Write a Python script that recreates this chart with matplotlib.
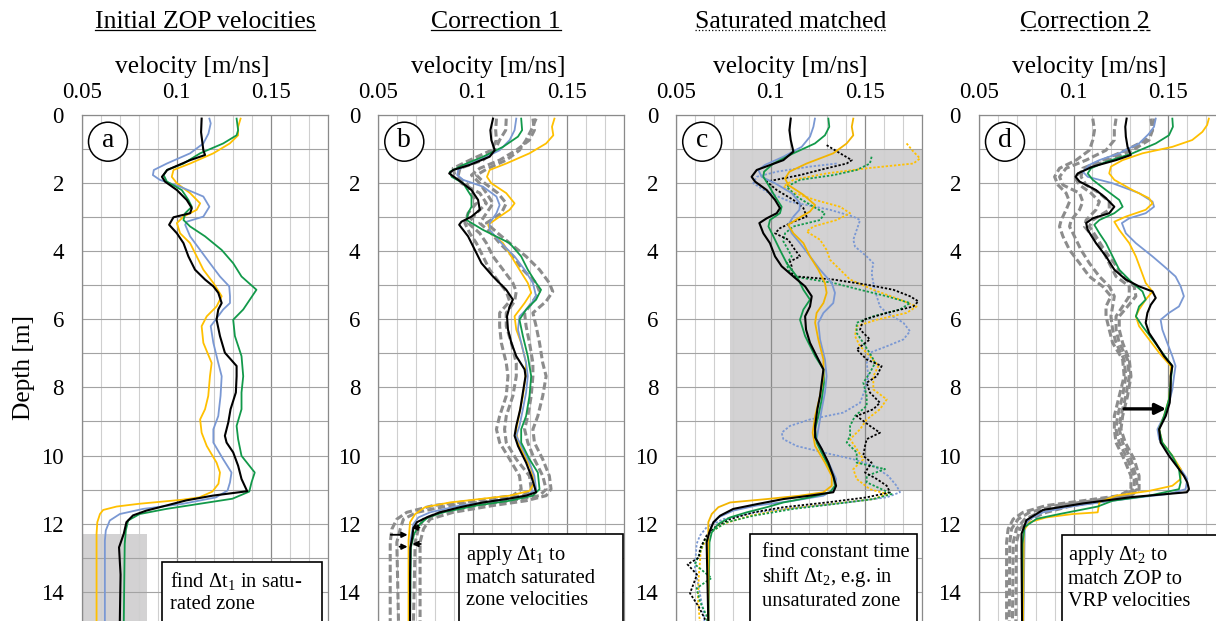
import matplotlib
matplotlib.use('Agg')
import matplotlib.pyplot as plt
from matplotlib.patches import Rectangle, Ellipse
from matplotlib.lines import Line2D
from matplotlib.transforms import IdentityTransform
import numpy as np

plt.rcParams['font.family'] = ['Liberation Serif', 'DejaVu Serif']
plt.rcParams['mathtext.fontset'] = 'custom'
plt.rcParams['mathtext.rm'] = 'Liberation Serif'
plt.rcParams['mathtext.it'] = 'Liberation Serif:italic'
plt.rcParams['mathtext.bf'] = 'Liberation Serif:bold'

# ---------------- DATA ----------------
panel_titles = ['Initial ZOP velocities', 'Correction 1', 'Saturated matched', 'Correction 2']
panel_letters = ['a', 'b', 'c', 'd']
x_ticks = [0.05, 0.10, 0.15]
x_tick_labels = ['0.05', '0.1', '0.15']
y_ticks = [0, 2, 4, 6, 8, 10, 12, 14]
box_texts = [
    'find $\\Delta\\mathrm{t}_1$ in satu-\nrated zone',
    'apply $\\Delta\\mathrm{t}_1$ to\nmatch saturated\nzone velocities',
    'find constant time\nshift $\\Delta\\mathrm{t}_2$, e.g. in\nunsaturated zone',
    'apply $\\Delta\\mathrm{t}_2$ to\nmatch ZOP to\nVRP velocities',
]

# Panel a
a_black_depth = [0.10, 0.50, 1.03, 1.17, 1.32, 1.61, 1.81, 1.95, 2.20, 2.49, 2.73, 2.88, 3.00, 3.22, 3.47, 3.76, 4.15, 4.54, 4.83, 5.03, 5.22, 5.52, 5.71, 6.01, 6.49, 6.98, 7.37, 7.67, 8.15, 8.64, 9.03, 9.42, 9.62, 9.91, 10.30, 10.69, 11.05, 11.18, 11.32, 11.47, 11.62, 11.76, 11.96, 12.30, 12.70, 13.50, 14.90]
a_black_vel = [0.1133, 0.1130, 0.1142, 0.1151, 0.1072, 0.0951, 0.0923, 0.0939, 0.1002, 0.1054, 0.1081, 0.1072, 0.0984, 0.0961, 0.1002, 0.1037, 0.1063, 0.1098, 0.1151, 0.1195, 0.1221, 0.1239, 0.1221, 0.1212, 0.1230, 0.1256, 0.1318, 0.1318, 0.1314, 0.1286, 0.1274, 0.1256, 0.1265, 0.1300, 0.1326, 0.1344, 0.1374, 0.1191, 0.1051, 0.0946, 0.0840, 0.0770, 0.0735, 0.0721, 0.0696, 0.0704, 0.0700]
a_blue_depth = [0.10, 0.24, 0.54, 0.83, 1.12, 1.42, 1.61, 1.76, 1.90, 2.10, 2.39, 2.69, 2.98, 3.13, 3.22, 3.56, 3.96, 4.35, 4.74, 5.03, 5.32, 5.52, 5.71, 6.20, 6.69, 7.28, 7.67, 8.25, 8.84, 9.23, 9.62, 10.11, 10.50, 10.79, 11.03, 11.23, 11.42, 11.57, 11.72, 11.91, 12.20, 12.50, 14.90]
a_blue_vel = [0.1174, 0.1181, 0.1169, 0.1142, 0.1072, 0.0949, 0.0880, 0.0875, 0.0912, 0.1019, 0.1142, 0.1174, 0.1142, 0.1054, 0.1046, 0.1072, 0.1125, 0.1177, 0.1230, 0.1279, 0.1283, 0.1283, 0.1247, 0.1181, 0.1195, 0.1221, 0.1239, 0.1233, 0.1221, 0.1195, 0.1195, 0.1247, 0.1291, 0.1283, 0.1270, 0.1209, 0.1033, 0.0823, 0.0700, 0.0647, 0.0626, 0.0621, 0.0621]
a_yellow_depth = [0.10, 0.34, 0.59, 0.83, 1.12, 1.42, 1.61, 1.81, 2.00, 2.29, 2.59, 2.78, 2.98, 3.17, 3.47, 3.76, 4.15, 4.54, 4.93, 5.32, 5.62, 5.91, 6.20, 6.69, 7.28, 7.67, 8.25, 8.64, 8.94, 9.33, 9.72, 10.21, 10.50, 10.83, 11.06, 11.23, 11.30, 11.42, 11.50, 11.60, 11.72, 11.96, 12.30, 14.90]
a_yellow_vel = [0.1339, 0.1326, 0.1326, 0.1282, 0.1195, 0.1072, 0.0984, 0.0975, 0.1002, 0.1072, 0.1125, 0.1107, 0.1037, 0.1002, 0.1019, 0.1072, 0.1107, 0.1142, 0.1195, 0.1239, 0.1212, 0.1160, 0.1133, 0.1142, 0.1186, 0.1177, 0.1168, 0.1151, 0.1125, 0.1133, 0.1160, 0.1212, 0.1230, 0.1222, 0.1190, 0.1121, 0.1030, 0.0800, 0.0683, 0.0612, 0.0595, 0.0581, 0.0577, 0.0577]
a_green_depth = [0.10, 0.44, 0.59, 0.83, 1.12, 1.42, 1.61, 1.76, 1.95, 2.20, 2.49, 2.69, 2.88, 3.08, 3.27, 3.56, 3.96, 4.35, 4.74, 5.13, 5.42, 5.71, 6.01, 6.49, 7.08, 7.67, 8.15, 8.64, 9.13, 9.52, 10.01, 10.50, 10.79, 11.06, 11.27, 11.42, 11.57, 11.72, 11.91, 12.20, 12.60, 14.90]
a_green_vel = [0.1318, 0.1326, 0.1318, 0.1247, 0.1125, 0.1037, 0.0949, 0.0932, 0.0949, 0.1028, 0.1063, 0.1081, 0.1046, 0.1037, 0.1072, 0.1151, 0.1239, 0.1300, 0.1344, 0.1423, 0.1388, 0.1353, 0.1300, 0.1309, 0.1344, 0.1353, 0.1344, 0.1344, 0.1318, 0.1326, 0.1344, 0.1414, 0.1397, 0.1385, 0.1296, 0.1121, 0.0946, 0.0805, 0.0744, 0.0732, 0.0726, 0.0721]

# Panel b
b_black_depth = [0.10, 0.44, 0.73, 1.03, 1.22, 1.46, 1.61, 1.71, 1.90, 2.20, 2.49, 2.78, 2.98, 3.13, 3.22, 3.56, 3.96, 4.35, 4.74, 5.13, 5.42, 5.62, 5.91, 6.30, 6.69, 7.08, 7.47, 7.67, 8.15, 8.64, 9.13, 9.42, 9.72, 10.21, 10.60, 11.08, 11.18, 11.28, 11.38, 11.52, 11.67, 11.82, 11.96, 12.15, 12.40, 12.70, 13.50, 14.90]
b_black_vel = [0.1107, 0.1093, 0.1098, 0.1116, 0.1089, 0.0984, 0.0896, 0.0875, 0.0923, 0.0993, 0.1028, 0.1037, 0.0993, 0.0940, 0.0928, 0.0975, 0.1011, 0.1046, 0.1107, 0.1177, 0.1212, 0.1195, 0.1181, 0.1186, 0.1204, 0.1230, 0.1274, 0.1279, 0.1265, 0.1251, 0.1230, 0.1221, 0.1239, 0.1282, 0.1309, 0.1335, 0.1282, 0.1177, 0.1054, 0.0932, 0.0826, 0.0756, 0.0704, 0.0685, 0.0680, 0.0670, 0.0668, 0.0668]
b_blue_depth = [0.10, 0.44, 0.73, 1.03, 1.27, 1.46, 1.61, 1.76, 1.90, 2.10, 2.39, 2.64, 2.88, 3.17, 3.37, 3.76, 4.15, 4.54, 4.93, 5.32, 5.62, 5.91, 6.30, 6.69, 7.28, 7.67, 8.15, 8.64, 9.13, 9.42, 9.81, 10.21, 10.60, 10.99, 11.18, 11.33, 11.47, 11.67, 11.82, 12.01, 12.50, 14.90]
b_blue_vel = [0.1230, 0.1221, 0.1195, 0.1142, 0.1054, 0.0967, 0.0923, 0.0918, 0.0949, 0.1054, 0.1125, 0.1142, 0.1125, 0.1089, 0.1089, 0.1151, 0.1221, 0.1274, 0.1318, 0.1335, 0.1300, 0.1247, 0.1239, 0.1256, 0.1282, 0.1291, 0.1282, 0.1265, 0.1247, 0.1230, 0.1265, 0.1300, 0.1326, 0.1335, 0.1282, 0.1125, 0.0932, 0.0774, 0.0712, 0.0686, 0.0670, 0.0668]
b_green_depth = [0.10, 0.44, 0.63, 0.93, 1.22, 1.46, 1.66, 1.81, 2.00, 2.39, 2.69, 2.88, 3.08, 3.37, 3.76, 4.15, 4.54, 4.93, 5.13, 5.42, 5.71, 6.01, 6.49, 7.08, 7.67, 8.25, 8.84, 9.23, 9.62, 10.11, 10.50, 10.99, 11.18, 11.33, 11.47, 11.67, 11.82, 12.01, 12.30, 12.70, 14.90]
b_green_vel = [0.1256, 0.1261, 0.1239, 0.1160, 0.1054, 0.0949, 0.0879, 0.0888, 0.0949, 0.0993, 0.0993, 0.0975, 0.0967, 0.1054, 0.1195, 0.1256, 0.1291, 0.1335, 0.1361, 0.1335, 0.1282, 0.1247, 0.1265, 0.1291, 0.1309, 0.1300, 0.1282, 0.1256, 0.1256, 0.1300, 0.1344, 0.1353, 0.1318, 0.1195, 0.1019, 0.0844, 0.0763, 0.0721, 0.0690, 0.0672, 0.0668]
b_yellow_depth = [0.10, 0.34, 0.59, 0.83, 1.12, 1.42, 1.61, 1.81, 2.00, 2.29, 2.59, 2.78, 2.98, 3.22, 3.47, 3.76, 4.15, 4.54, 4.93, 5.22, 5.52, 5.91, 6.30, 6.69, 7.28, 7.67, 8.25, 8.84, 9.23, 9.62, 10.01, 10.40, 10.79, 11.04, 11.18, 11.28, 11.38, 11.52, 11.72, 11.96, 12.50, 14.90]
b_yellow_vel = [0.1432, 0.1419, 0.1426, 0.1388, 0.1300, 0.1177, 0.1089, 0.1075, 0.1098, 0.1177, 0.1221, 0.1195, 0.1142, 0.1081, 0.1098, 0.1160, 0.1204, 0.1247, 0.1291, 0.1309, 0.1274, 0.1221, 0.1230, 0.1256, 0.1282, 0.1279, 0.1265, 0.1244, 0.1230, 0.1239, 0.1274, 0.1309, 0.1326, 0.1300, 0.1195, 0.1037, 0.0879, 0.0747, 0.0695, 0.0668, 0.0660, 0.0660]
b_gray_depth = [0.10, 0.44, 0.73, 1.03, 1.32, 1.56, 1.76, 2.00, 2.29, 2.59, 2.88, 3.17, 3.47, 3.76, 4.15, 4.54, 4.93, 5.18, 5.47, 5.81, 6.20, 6.69, 7.28, 7.67, 8.25, 8.84, 9.23, 9.62, 10.11, 10.60, 10.99, 11.18, 11.33, 11.47, 11.67, 11.87, 12.16, 12.55, 14.90]
b_gray1_vel = [0.1125, 0.1121, 0.1125, 0.1098, 0.0984, 0.0896, 0.0905, 0.0967, 0.0993, 0.1019, 0.0975, 0.0958, 0.0984, 0.1019, 0.1054, 0.1089, 0.1142, 0.1177, 0.1195, 0.1142, 0.1142, 0.1151, 0.1177, 0.1186, 0.1177, 0.1142, 0.1125, 0.1142, 0.1195, 0.1247, 0.1256, 0.1212, 0.1002, 0.0791, 0.0651, 0.0598, 0.0572, 0.0563, 0.0563]
b_gray2_vel = [0.1177, 0.1174, 0.1142, 0.1116, 0.1054, 0.0932, 0.0923, 0.0940, 0.1037, 0.1072, 0.1019, 0.0975, 0.1037, 0.1072, 0.1107, 0.1160, 0.1212, 0.1230, 0.1221, 0.1177, 0.1177, 0.1204, 0.1230, 0.1230, 0.1212, 0.1177, 0.1168, 0.1177, 0.1230, 0.1300, 0.1309, 0.1265, 0.1107, 0.0879, 0.0704, 0.0633, 0.0616, 0.0598, 0.0607]
b_gray3_vel = [0.1318, 0.1326, 0.1300, 0.1230, 0.1142, 0.1037, 0.0993, 0.1037, 0.1072, 0.1107, 0.1072, 0.1037, 0.1098, 0.1142, 0.1212, 0.1265, 0.1335, 0.1353, 0.1318, 0.1274, 0.1282, 0.1300, 0.1318, 0.1318, 0.1309, 0.1291, 0.1274, 0.1291, 0.1326, 0.1370, 0.1388, 0.1353, 0.1195, 0.1019, 0.0826, 0.0739, 0.0712, 0.0695, 0.0686]
b_gray4_vel = [0.1335, 0.1309, 0.1282, 0.1247, 0.1177, 0.1081, 0.1019, 0.1063, 0.1133, 0.1177, 0.1151, 0.1072, 0.1133, 0.1195, 0.1282, 0.1353, 0.1405, 0.1423, 0.1388, 0.1318, 0.1335, 0.1353, 0.1370, 0.1388, 0.1370, 0.1344, 0.1318, 0.1326, 0.1370, 0.1405, 0.1414, 0.1388, 0.1282, 0.1107, 0.0896, 0.0774, 0.0739, 0.0721, 0.0721]

# Panel c (solid = ZOP, dotted = VRP)
c_black_depth = [0.10, 0.44, 0.73, 1.07, 1.32, 1.61, 1.81, 1.95, 2.20, 2.49, 2.73, 2.88, 3.03, 3.17, 3.47, 3.76, 4.15, 4.44, 4.74, 5.03, 5.32, 5.62, 5.91, 6.30, 6.69, 7.08, 7.47, 7.86, 8.25, 8.64, 9.13, 9.47, 9.81, 10.21, 10.60, 10.89, 11.08, 11.18, 11.28, 11.43, 11.57, 11.77, 11.96, 12.26, 12.55, 14.90]
c_black_vel = [0.1106, 0.1099, 0.1106, 0.1120, 0.1067, 0.0926, 0.0899, 0.0917, 0.0979, 0.1023, 0.1049, 0.1032, 0.0979, 0.0940, 0.0961, 0.0996, 0.1023, 0.1058, 0.1120, 0.1182, 0.1217, 0.1208, 0.1182, 0.1187, 0.1208, 0.1243, 0.1279, 0.1270, 0.1261, 0.1247, 0.1235, 0.1235, 0.1270, 0.1305, 0.1331, 0.1346, 0.1331, 0.1208, 0.1067, 0.0926, 0.0802, 0.0732, 0.0697, 0.0675, 0.0661, 0.0670]
c_blue_depth = [0.10, 0.34, 0.63, 0.93, 1.22, 1.46, 1.61, 1.81, 2.00, 2.29, 2.59, 2.78, 2.98, 3.22, 3.47, 3.76, 4.15, 4.54, 4.93, 5.22, 5.52, 5.81, 6.10, 6.59, 7.18, 7.67, 8.15, 8.64, 9.23, 9.52, 9.91, 10.30, 10.69, 10.99, 11.18, 11.33, 11.47, 11.62, 11.82, 12.06, 12.35, 14.90]
c_blue_vel = [0.1234, 0.1226, 0.1208, 0.1164, 0.1067, 0.0970, 0.0935, 0.0952, 0.1023, 0.1111, 0.1155, 0.1152, 0.1120, 0.1093, 0.1111, 0.1155, 0.1208, 0.1261, 0.1323, 0.1340, 0.1331, 0.1279, 0.1252, 0.1261, 0.1287, 0.1296, 0.1287, 0.1270, 0.1252, 0.1243, 0.1279, 0.1314, 0.1346, 0.1340, 0.1279, 0.1120, 0.0926, 0.0802, 0.0723, 0.0688, 0.0670, 0.0670]
c_green_depth = [0.10, 0.34, 0.59, 0.83, 1.12, 1.42, 1.66, 1.81, 2.05, 2.39, 2.69, 2.88, 3.08, 3.27, 3.56, 3.96, 4.35, 4.74, 5.13, 5.42, 5.71, 6.01, 6.49, 7.08, 7.47, 7.86, 8.35, 8.84, 9.23, 9.62, 10.11, 10.60, 10.89, 11.08, 11.23, 11.38, 11.52, 11.67, 11.82, 12.01, 12.26, 12.55, 14.90]
c_green_vel = [0.1305, 0.1310, 0.1287, 0.1234, 0.1120, 0.1014, 0.0965, 0.0961, 0.0988, 0.1023, 0.1058, 0.1049, 0.0996, 0.0988, 0.1014, 0.1049, 0.1085, 0.1138, 0.1173, 0.1208, 0.1173, 0.1155, 0.1182, 0.1235, 0.1279, 0.1282, 0.1270, 0.1252, 0.1235, 0.1243, 0.1287, 0.1331, 0.1340, 0.1314, 0.1208, 0.1067, 0.0979, 0.0873, 0.0785, 0.0723, 0.0688, 0.0676, 0.0670]
c_yellow_depth = [0.10, 0.34, 0.59, 0.83, 1.12, 1.42, 1.66, 1.86, 2.05, 2.34, 2.64, 2.83, 3.03, 3.22, 3.47, 3.76, 4.15, 4.54, 4.93, 5.22, 5.52, 5.81, 6.10, 6.59, 7.18, 7.67, 8.25, 8.84, 9.33, 9.72, 10.21, 10.60, 10.89, 11.08, 11.18, 11.28, 11.38, 11.52, 11.72, 11.96, 14.90]
c_yellow_vel = [0.1437, 0.1429, 0.1437, 0.1402, 0.1331, 0.1190, 0.1099, 0.1076, 0.1093, 0.1173, 0.1235, 0.1208, 0.1146, 0.1093, 0.1120, 0.1173, 0.1208, 0.1252, 0.1287, 0.1296, 0.1279, 0.1243, 0.1235, 0.1252, 0.1279, 0.1279, 0.1261, 0.1235, 0.1222, 0.1235, 0.1287, 0.1323, 0.1323, 0.1279, 0.1155, 0.0979, 0.0785, 0.0723, 0.0688, 0.0670, 0.0670]
c_black_vrp_depth = [0.88, 1.12, 1.32, 1.42, 1.56, 1.76, 1.95, 2.20, 2.49, 2.73, 2.98, 3.13, 3.32, 3.47, 3.66, 3.96, 4.15, 4.30, 4.44, 4.64, 4.74, 4.83, 4.98, 5.13, 5.32, 5.47, 5.62, 5.81, 6.01, 6.30, 6.59, 6.88, 7.18, 7.37, 7.67, 7.86, 8.15, 8.45, 8.64, 8.84, 9.13, 9.33, 9.52, 9.72, 10.01, 10.21, 10.50, 10.69, 10.89, 11.08, 11.23, 11.38, 11.52, 11.67, 11.87, 12.06, 12.35, 12.74, 13.00, 13.20, 13.50, 14.05, 14.45, 14.90]
c_black_vrp_vel = [0.1296, 0.1367, 0.1429, 0.1402, 0.1296, 0.1155, 0.0979, 0.1032, 0.1120, 0.1173, 0.1190, 0.1120, 0.1049, 0.1023, 0.1093, 0.1129, 0.1155, 0.1102, 0.1111, 0.1111, 0.1138, 0.1332, 0.1508, 0.1649, 0.1737, 0.1781, 0.1755, 0.1614, 0.1490, 0.1473, 0.1525, 0.1455, 0.1508, 0.1587, 0.1561, 0.1508, 0.1525, 0.1578, 0.1543, 0.1455, 0.1525, 0.1578, 0.1508, 0.1499, 0.1490, 0.1534, 0.1499, 0.1561, 0.1614, 0.1631, 0.1508, 0.1296, 0.1067, 0.0908, 0.0785, 0.0714, 0.0661, 0.0626, 0.0620, 0.0560, 0.0610, 0.0573, 0.0620, 0.0660]
c_blue_vrp_depth = [1.42, 1.51, 1.66, 1.81, 2.00, 2.25, 2.54, 2.78, 2.98, 3.08, 3.37, 3.66, 3.86, 4.15, 4.35, 4.64, 4.93, 5.32, 5.62, 5.81, 6.10, 6.35, 6.59, 6.79, 6.98, 7.28, 7.67, 8.06, 8.45, 8.74, 8.94, 9.13, 9.33, 9.52, 9.72, 9.91, 10.11, 10.30, 10.60, 10.89, 11.08, 11.23, 11.38, 11.52, 11.67, 11.87, 12.11, 12.35, 12.60, 13.29, 14.08, 14.60, 14.90]
c_blue_vrp_vel = [0.1349, 0.1208, 0.1032, 0.0926, 0.0908, 0.0979, 0.1102, 0.1314, 0.1437, 0.1473, 0.1455, 0.1437, 0.1446, 0.1508, 0.1543, 0.1534, 0.1543, 0.1561, 0.1578, 0.1614, 0.1702, 0.1737, 0.1702, 0.1614, 0.1525, 0.1508, 0.1517, 0.1499, 0.1473, 0.1384, 0.1208, 0.1102, 0.1058, 0.1067, 0.1137, 0.1278, 0.1437, 0.1543, 0.1622, 0.1666, 0.1684, 0.1614, 0.1402, 0.1155, 0.0926, 0.0749, 0.0661, 0.0626, 0.0608, 0.0599, 0.0626, 0.0644, 0.0650]
c_green_vrp_depth = [1.22, 1.42, 1.61, 1.76, 1.90, 2.10, 2.39, 2.69, 2.88, 3.08, 3.27, 3.47, 3.71, 3.96, 4.15, 4.35, 4.54, 4.74, 4.93, 5.13, 5.32, 5.52, 5.71, 5.91, 6.10, 6.40, 6.69, 7.08, 7.28, 7.57, 7.86, 8.25, 8.54, 8.84, 9.13, 9.42, 9.62, 9.91, 10.21, 10.40, 10.60, 10.79, 10.99, 11.13, 11.28, 11.43, 11.57, 11.77, 11.96, 12.26, 12.55, 12.85, 13.20, 13.60, 13.90, 14.30, 14.70, 14.90]
c_green_vrp_vel = [0.1534, 0.1525, 0.1455, 0.1332, 0.1155, 0.1085, 0.1137, 0.1226, 0.1287, 0.1261, 0.1120, 0.1076, 0.1067, 0.1093, 0.1111, 0.1085, 0.1093, 0.1120, 0.1332, 0.1473, 0.1614, 0.1737, 0.1684, 0.1543, 0.1455, 0.1455, 0.1490, 0.1534, 0.1552, 0.1525, 0.1490, 0.1508, 0.1508, 0.1446, 0.1420, 0.1420, 0.1402, 0.1455, 0.1455, 0.1605, 0.1508, 0.1508, 0.1587, 0.1640, 0.1543, 0.1332, 0.1120, 0.0908, 0.0767, 0.0679, 0.0644, 0.0626, 0.0599, 0.0687, 0.0608, 0.0626, 0.0660, 0.0665]
c_yellow_vrp_depth = [0.83, 1.07, 1.27, 1.42, 1.56, 1.71, 1.90, 2.10, 2.29, 2.49, 2.69, 2.88, 3.08, 3.27, 3.42, 3.66, 3.96, 4.25, 4.54, 4.83, 5.13, 5.42, 5.62, 5.81, 6.01, 6.20, 6.49, 6.79, 7.08, 7.37, 7.67, 8.06, 8.35, 8.64, 8.94, 9.23, 9.52, 9.81, 10.11, 10.40, 10.69, 10.99, 11.13, 11.28, 11.43, 11.57, 11.77, 12.01, 12.30, 12.80, 13.50, 14.20, 14.90]
c_yellow_vrp_vel = [0.1719, 0.1755, 0.1790, 0.1755, 0.1508, 0.1296, 0.1120, 0.1067, 0.1129, 0.1235, 0.1367, 0.1420, 0.1349, 0.1226, 0.1190, 0.1261, 0.1296, 0.1314, 0.1367, 0.1420, 0.1543, 0.1684, 0.1772, 0.1719, 0.1561, 0.1455, 0.1446, 0.1473, 0.1525, 0.1570, 0.1543, 0.1543, 0.1614, 0.1578, 0.1508, 0.1473, 0.1420, 0.1455, 0.1490, 0.1437, 0.1455, 0.1525, 0.1614, 0.1543, 0.1314, 0.1085, 0.0890, 0.0749, 0.0670, 0.0630, 0.0620, 0.0615, 0.0625]

# Panel d
d_black_depth = [0.10, 0.34, 0.63, 0.93, 1.17, 1.32, 1.51, 1.71, 1.81, 1.95, 2.20, 2.44, 2.69, 2.88, 3.03, 3.17, 3.37, 3.76, 4.15, 4.54, 4.83, 5.03, 5.18, 5.37, 5.57, 5.81, 6.10, 6.40, 6.69, 7.08, 7.37, 7.67, 8.06, 8.45, 8.84, 9.23, 9.62, 10.01, 10.40, 10.60, 10.79, 10.99, 11.08, 11.22, 11.41, 11.60, 11.90, 12.30, 12.74, 14.90]
d_black_vel = [0.1281, 0.1274, 0.1277, 0.1286, 0.1303, 0.1225, 0.1102, 0.1023, 0.1011, 0.1032, 0.1119, 0.1172, 0.1216, 0.1189, 0.1102, 0.1067, 0.1075, 0.1119, 0.1172, 0.1216, 0.1277, 0.1347, 0.1418, 0.1435, 0.1409, 0.1391, 0.1382, 0.1400, 0.1435, 0.1479, 0.1523, 0.1514, 0.1514, 0.1509, 0.1488, 0.1453, 0.1461, 0.1505, 0.1558, 0.1584, 0.1602, 0.1611, 0.1600, 0.1312, 0.1049, 0.0838, 0.0751, 0.0725, 0.0725, 0.0728]
d_blue_depth = [0.10, 0.34, 0.54, 0.83, 1.12, 1.32, 1.46, 1.66, 1.81, 2.00, 2.29, 2.54, 2.69, 2.88, 3.03, 3.17, 3.47, 3.76, 4.15, 4.44, 4.74, 5.03, 5.32, 5.62, 5.81, 6.01, 6.30, 6.69, 7.08, 7.37, 7.67, 8.06, 8.45, 8.84, 9.23, 9.52, 9.91, 10.40, 10.69, 10.99, 11.13, 11.23, 11.38, 11.52, 11.67, 11.87, 12.06, 14.90]
d_blue_vel = [0.1435, 0.1426, 0.1400, 0.1347, 0.1242, 0.1137, 0.1084, 0.1049, 0.1075, 0.1207, 0.1347, 0.1418, 0.1426, 0.1382, 0.1295, 0.1256, 0.1277, 0.1330, 0.1418, 0.1479, 0.1540, 0.1567, 0.1584, 0.1558, 0.1505, 0.1461, 0.1470, 0.1496, 0.1523, 0.1540, 0.1532, 0.1523, 0.1505, 0.1479, 0.1444, 0.1453, 0.1505, 0.1567, 0.1602, 0.1593, 0.1505, 0.1347, 0.1137, 0.0961, 0.0839, 0.0768, 0.0742, 0.0735]
d_green_depth = [0.10, 0.34, 0.59, 0.83, 1.12, 1.37, 1.56, 1.71, 1.90, 2.20, 2.49, 2.69, 2.88, 3.08, 3.22, 3.47, 3.76, 4.15, 4.54, 4.93, 5.18, 5.42, 5.62, 5.91, 6.20, 6.59, 6.98, 7.37, 7.86, 8.35, 8.84, 9.23, 9.62, 10.01, 10.40, 10.79, 10.99, 11.18, 11.33, 11.50, 11.72, 11.86, 12.10, 12.60, 14.90]
d_green_vel = [0.1523, 0.1526, 0.1505, 0.1435, 0.1312, 0.1172, 0.1093, 0.1075, 0.1102, 0.1172, 0.1242, 0.1260, 0.1216, 0.1137, 0.1110, 0.1137, 0.1172, 0.1207, 0.1242, 0.1312, 0.1365, 0.1382, 0.1347, 0.1330, 0.1365, 0.1418, 0.1470, 0.1523, 0.1514, 0.1505, 0.1479, 0.1453, 0.1470, 0.1523, 0.1558, 0.1567, 0.1558, 0.1400, 0.1207, 0.1128, 0.0926, 0.0805, 0.0741, 0.0730, 0.0728]
d_yellow_depth = [0.10, 0.29, 0.49, 0.73, 0.93, 1.12, 1.32, 1.51, 1.71, 1.90, 2.20, 2.44, 2.59, 2.78, 2.98, 3.13, 3.37, 3.76, 4.15, 4.54, 4.93, 5.18, 5.42, 5.71, 5.91, 6.20, 6.59, 6.98, 7.37, 7.86, 8.35, 8.84, 9.23, 9.62, 10.01, 10.40, 10.69, 10.89, 11.04, 11.18, 11.37, 11.67, 11.72, 11.82, 11.96, 12.20, 14.90]
d_yellow_vel = [0.1716, 0.1707, 0.1682, 0.1628, 0.1523, 0.1365, 0.1260, 0.1198, 0.1189, 0.1216, 0.1312, 0.1400, 0.1418, 0.1382, 0.1277, 0.1216, 0.1242, 0.1295, 0.1330, 0.1356, 0.1382, 0.1418, 0.1382, 0.1347, 0.1330, 0.1347, 0.1400, 0.1453, 0.1514, 0.1514, 0.1505, 0.1479, 0.1453, 0.1470, 0.1523, 0.1567, 0.1567, 0.1523, 0.1400, 0.1225, 0.1137, 0.1128, 0.0996, 0.0856, 0.0768, 0.0737, 0.0733]
d_gray_depth = [0.10, 0.44, 0.73, 1.03, 1.32, 1.56, 1.81, 2.05, 2.29, 2.54, 2.78, 3.08, 3.27, 3.56, 3.96, 4.35, 4.74, 5.03, 5.32, 5.62, 5.91, 6.30, 6.69, 7.18, 7.67, 8.25, 8.84, 9.23, 9.62, 10.11, 10.60, 10.99, 11.18, 11.33, 11.47, 11.67, 11.87, 12.16, 12.55, 14.90]
d_gray1_vel = [0.1102, 0.1111, 0.1102, 0.1084, 0.1014, 0.0926, 0.0900, 0.0918, 0.0961, 0.0979, 0.0961, 0.0935, 0.0926, 0.0944, 0.0979, 0.1032, 0.1084, 0.1154, 0.1198, 0.1172, 0.1172, 0.1189, 0.1207, 0.1260, 0.1268, 0.1242, 0.1216, 0.1216, 0.1225, 0.1268, 0.1304, 0.1304, 0.1242, 0.1049, 0.0856, 0.0733, 0.0681, 0.0654, 0.0646, 0.0646]
d_gray2_vel = [0.1225, 0.1216, 0.1216, 0.1172, 0.1067, 0.0961, 0.0926, 0.0944, 0.1032, 0.1049, 0.1032, 0.0988, 0.0979, 0.1005, 0.1040, 0.1084, 0.1137, 0.1189, 0.1216, 0.1207, 0.1198, 0.1207, 0.1225, 0.1268, 0.1277, 0.1260, 0.1233, 0.1225, 0.1242, 0.1286, 0.1321, 0.1321, 0.1268, 0.1102, 0.0909, 0.0768, 0.0707, 0.0672, 0.0663, 0.0660]
d_gray3_vel = [0.1409, 0.1418, 0.1400, 0.1312, 0.1189, 0.1067, 0.1005, 0.1032, 0.1093, 0.1137, 0.1119, 0.1067, 0.1058, 0.1102, 0.1154, 0.1189, 0.1225, 0.1295, 0.1295, 0.1260, 0.1225, 0.1225, 0.1242, 0.1286, 0.1295, 0.1277, 0.1251, 0.1242, 0.1260, 0.1304, 0.1330, 0.1339, 0.1286, 0.1137, 0.0961, 0.0821, 0.0742, 0.0698, 0.0681, 0.0677]
d_gray4_vel = [0.1426, 0.1418, 0.1382, 0.1277, 0.1154, 0.1049, 0.1040, 0.1067, 0.1137, 0.1189, 0.1189, 0.1102, 0.1084, 0.1119, 0.1163, 0.1216, 0.1260, 0.1321, 0.1330, 0.1286, 0.1242, 0.1242, 0.1260, 0.1295, 0.1304, 0.1286, 0.1260, 0.1251, 0.1274, 0.1321, 0.1347, 0.1347, 0.1304, 0.1172, 0.0996, 0.0856, 0.0768, 0.0716, 0.0698, 0.0695]

# ---------------- STYLE / LAYOUT ----------------
BLACK = '#000000'
BLUE = '#7a98d3'
GREEN = '#12994a'
YELLOW = '#ffc000'
GRAY = '#8c8c8c'
SHADE = '#d3d2d3'

W, H = 1216, 621
fig = plt.figure(figsize=(W / 100, H / 100), dpi=100)
fig.patch.set_facecolor('white')

LEFTS = [82, 378.3, 676.2, 979]
AX_W = 245.7
AX_TOP = 115.2
PX_PER_M = 34.03
AX_H = H - AX_TOP
DMAX = AX_H / PX_PER_M

TITLE_X = [205, 496, 791, 1085]
XLAB_X = [192, 488, 790, 1089]
UNDERLINE = ['-', '-', ':', '--']

axes = []
for i, left in enumerate(LEFTS):
    ax = fig.add_axes([left / W, 0, AX_W / W, AX_H / H])
    ax.set_xlim(0.05, 0.18)
    ax.set_ylim(DMAX, 0)
    ax.xaxis.tick_top()
    ax.set_xticks(x_ticks)
    ax.set_xticklabels(x_tick_labels)
    ax.set_xticks(np.round(np.arange(0.05, 0.1801, 0.01), 2), minor=True)
    ax.set_yticks(y_ticks)
    ax.set_yticks(np.arange(0, 15, 1), minor=True)
    ax.tick_params(which='both', length=0)
    ax.tick_params(axis='x', labelsize=16.5, pad=9)
    ax.tick_params(axis='y', labelsize=16.5, pad=13)
    ax.grid(which='major', axis='x', color='#8a8a8a', lw=0.9)
    ax.grid(which='minor', axis='x', color='#cfcfcf', lw=0.8)
    ax.grid(which='both', axis='y', color='#a3a3a3', lw=0.8)
    ax.set_axisbelow(True)
    for s in ['left', 'top', 'right']:
        ax.spines[s].set_color('#8a8a8a')
        ax.spines[s].set_linewidth(0.9)
    ax.spines['bottom'].set_visible(False)
    axes.append(ax)

ax_a, ax_b, ax_c, ax_d = axes

# shaded zones
ax_a.add_patch(Rectangle((0.05, 12.3), 0.0342, 4.0, fc=SHADE, ec='none', zorder=0.2))
ax_c.add_patch(Rectangle((0.0786, 1.0), 0.11, 10.0, fc=SHADE, ec='none', zorder=0.2))

LW = 1.3
GRAY_LS = (0, (2.4, 1.1))
DOT_LS = (0, (1.3, 1.0))

# panel a
ax_a.plot(a_yellow_vel, a_yellow_depth, color=YELLOW, lw=LW)
ax_a.plot(a_blue_vel, a_blue_depth, color=BLUE, lw=LW)
ax_a.plot(a_green_vel, a_green_depth, color=GREEN, lw=LW)
ax_a.plot(a_black_vel, a_black_depth, color=BLACK, lw=LW + 0.2)

# panel b
for gv in [b_gray1_vel, b_gray2_vel, b_gray3_vel, b_gray4_vel]:
    ax_b.plot(gv, b_gray_depth, color=GRAY, lw=2.2, ls=GRAY_LS)
ax_b.plot(b_yellow_vel, b_yellow_depth, color=YELLOW, lw=LW)
ax_b.plot(b_blue_vel, b_blue_depth, color=BLUE, lw=LW)
ax_b.plot(b_green_vel, b_green_depth, color=GREEN, lw=LW)
ax_b.plot(b_black_vel, b_black_depth, color=BLACK, lw=LW + 0.2)

# panel c
ax_c.plot(c_blue_vrp_vel, c_blue_vrp_depth, color=BLUE, lw=1.3, ls=DOT_LS)
ax_c.plot(c_yellow_vrp_vel, c_yellow_vrp_depth, color=YELLOW, lw=1.3, ls=DOT_LS)
ax_c.plot(c_green_vrp_vel, c_green_vrp_depth, color=GREEN, lw=1.3, ls=DOT_LS)
ax_c.plot(c_black_vrp_vel, c_black_vrp_depth, color=BLACK, lw=1.3, ls=DOT_LS)
ax_c.plot(c_blue_vel, c_blue_depth, color=BLUE, lw=LW)
ax_c.plot(c_green_vel, c_green_depth, color=GREEN, lw=LW)
ax_c.plot(c_yellow_vel, c_yellow_depth, color='#f2b400', lw=LW)
ax_c.plot(c_black_vel, c_black_depth, color=BLACK, lw=LW + 0.2)

# panel d
for gv in [d_gray1_vel, d_gray2_vel, d_gray3_vel, d_gray4_vel]:
    ax_d.plot(gv, d_gray_depth, color=GRAY, lw=2.2, ls=GRAY_LS)
ax_d.plot(d_blue_vel, d_blue_depth, color=BLUE, lw=LW)
ax_d.plot(d_yellow_vel, d_yellow_depth, color=YELLOW, lw=LW)
ax_d.plot(d_green_vel, d_green_depth, color=GREEN, lw=LW)
ax_d.plot(d_black_vel, d_black_depth, color=BLACK, lw=LW + 0.2)

# arrows
ax_d.annotate('', xy=(0.1490, 8.63), xytext=(0.1268, 8.63),
              arrowprops=dict(arrowstyle='-|>', color='black', lw=2.4, mutation_scale=16,
                              shrinkA=0, shrinkB=0), zorder=7)
small = dict(arrowstyle='-|>', color='black', lw=1.3, mutation_scale=8, shrinkA=0, shrinkB=0)
ax_b.annotate('', xy=(0.0655, 12.33), xytext=(0.0566, 12.33), arrowprops=small, zorder=7)
ax_b.annotate('', xy=(0.0676, 12.12), xytext=(0.0718, 12.12), arrowprops=small, zorder=7)
ax_b.annotate('', xy=(0.0655, 12.68), xytext=(0.0612, 12.68), arrowprops=small, zorder=7)
ax_b.annotate('', xy=(0.0680, 12.60), xytext=(0.0725, 12.60), arrowprops=small, zorder=7)

# text boxes (left v, top depth, right v, text-left v, text-center depth)
boxes = [
    (0.0925, 13.14, 0.1768, 0.0963, 14.00),
    (0.0927, 12.30, 0.1793, 0.0962, 13.57),
    (0.0890, 12.30, 0.1773, 0.0952, 13.57),
    (0.0938, 12.33, 0.1900, 0.0970, 13.58),
]
for ax, (l, t, r, tx, ty), txt in zip(axes, boxes, box_texts):
    ax.add_patch(Rectangle((l, t), r - l, 5.0, fc='white', ec='black', lw=1.2, zorder=5))
    ax.text(tx, ty, txt, fontsize=14.8, va='center', ha='left', linespacing=1.2, zorder=6)

# circled letters
for ax, letter in zip(axes, panel_letters):
    cx, cy = 26 / AX_W, 1 - 26.5 / AX_H
    ax.add_patch(Ellipse((cx, cy), 39 / AX_W, 39 / AX_H, transform=ax.transAxes,
                         fc='white', ec='black', lw=1.1, zorder=6))
    ax.text(cx, cy + 0.002, letter, transform=ax.transAxes, fontsize=20,
            ha='center', va='center', zorder=7)

# titles and axis labels
title_texts = []
for i in range(4):
    t = fig.text(TITLE_X[i] / W, 1 - 22 / H, panel_titles[i], fontsize=18.5,
                 ha='center', va='center')
    title_texts.append(t)
    fig.text(XLAB_X[i] / W, 1 - 67 / H, 'velocity [m/ns]', fontsize=18.3,
             ha='center', va='center')
fig.text(24 / W, 1 - 368 / H, 'Depth [m]', fontsize=18.3, rotation=90,
         ha='center', va='center')

fig.canvas.draw()
renderer = fig.canvas.get_renderer()
for t, ls in zip(title_texts, UNDERLINE):
    bb = t.get_window_extent(renderer=renderer)
    yline = bb.y0 + 3.5
    fig.add_artist(Line2D([bb.x0, bb.x1], [yline, yline], transform=IdentityTransform(),
                          color='black', lw=0.9, ls=ls))

fig.savefig('out.png', dpi=100, facecolor='white')
